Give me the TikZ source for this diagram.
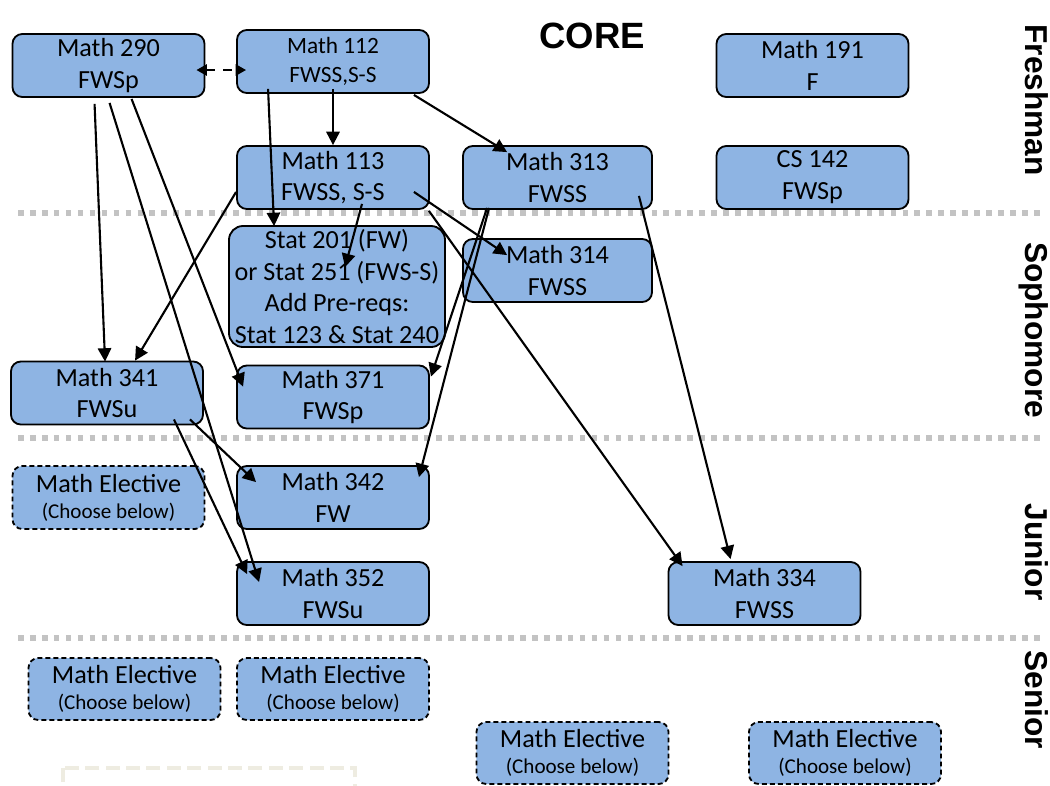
\documentclass[tikz,border=0pt]{standalone}
\usepackage{fontspec}
\setmainfont{Carlito}
\newfontfamily\headfont{Liberation Sans}
\usetikzlibrary{positioning}
\usetikzlibrary{arrows.meta}
\usetikzlibrary{calc}
\definecolor{cBlue}{HTML}{8EB4E3}
\definecolor{cGray}{HTML}{C3C3C3}
\definecolor{cBeige}{HTML}{EEECE1}

\begin{document}
\begin{tikzpicture}[
    x=0.025cm, y=-0.025cm,
    course/.style = {draw, fill=cBlue, line width=1.3pt, rounded corners=7pt,
      minimum width=4.8cm, minimum height=1.575cm, inner sep=0pt, align=center,
      font=\fontsize{18.6}{22.6}\selectfont},
    elective/.style = {course, dash pattern=on 3.5pt off 2.2pt},
    prereq/.style = {-{Triangle[length=9.5pt, width=9.5pt]}, line width=1.5pt},
    level/.style = {font=\headfont\bfseries\fontsize{22.5}{26}\selectfont, rotate=-90, anchor=base},
    separator/.style = {color=cGray, line width=3.6pt, dash pattern=on 4pt off 4.5pt},
  ]

    \def\hElective{Math Elective\\[-4.2pt]{\fontsize{15}{18}\selectfont (Choose below)}}

    \useasboundingbox (0,0) rectangle (1050,785);
    \clip (0,0) rectangle (1050,785);

    % year separators
    \draw[separator] (18,213) -- (1045,213);
    \draw[separator] (18,438) -- (1045,438);
    \draw[separator] (18,638) -- (1045,638);

    % leftover frame at the bottom
    \draw[cBeige, line width=3pt, dash pattern=on 10pt off 4.5pt] (63,768) rectangle (355,800);

    \node[font=\headfont\bfseries\fontsize{26}{30}\selectfont] (core) at (592,36) {CORE};

    % freshman
    \node[course] (m290) at (108.5,65.5) {Math 290\\FWSp};
    \node[course, font=\fontsize{16.6}{20.5}\selectfont] (m112) at (333,61.5) {Math 112\\FWSS,S-S};
    \node[course] (m191) at (812.5,65.5) {Math 191\\F};
    \node[course] (m113) at (333,177.5) {Math 113\\FWSS, S-S};
    \node[course, minimum width=4.725cm] (m313) at (557.5,177.5) {Math 313\\FWSS};
    \node[course] (cs142) at (812.5,177.5) {CS 142\\FWSp};

    % sophomore
    \node[course, minimum width=5.4cm, minimum height=3.025cm, rounded corners=10pt] (stat) at (337,286.5)
      {Stat 201 (FW)\\or Stat 251 (FWS-S)\\Add Pre-reqs:\\Stat 123 \& Stat 240};
    \node[course, minimum width=4.725cm] (m314) at (557.5,270.5) {Math 314\\FWSS};
    \node[course] (m341) at (107,393) {Math 341\\FWSu};
    \node[course] (m371) at (333,397) {Math 371\\FWSp};

    % junior
    \node[elective] (eJunior) at (108.5,497.5) {\hElective};
    \node[course] (m342) at (333,497.5) {Math 342\\FW};
    \node[course] (m352) at (333,593.5) {Math 352\\FWSu};
    \node[course] (m334) at (764.5,593.5) {Math 334\\FWSS};

    % senior
    \node[elective, minimum height=1.55cm] (eSeniorA) at (124.5,689) {\hElective};
    \node[elective, minimum height=1.55cm] (eSeniorB) at (333,689) {\hElective};
    \node[elective, minimum height=1.55cm] (eSeniorC) at (572.5,753) {\hElective};
    \node[elective, minimum height=1.55cm] (eSeniorD) at (845,753) {\hElective};

    % year labels
    \node[level] (lFresh) at (1025,100) {Freshman};
    \node[level] (lSoph) at (1025,330) {Sophomore};
    \node[level] (lJun) at (1025,552) {Junior};
    \node[level] (lSen) at (1025,700) {Senior};

    % either order
    \draw[line width=1.6pt, {Triangle[length=7.5pt, width=8pt]}-{Triangle[length=7.5pt, width=8pt]},
      dash pattern=on 6pt off 6pt] ($(m290.east)+(-9,4.5)$) -- ($(m112.west)+(10,8.5)$);

    % math 112 -> ...
    \draw[prereq] ($(m112.south)+(0,-5)$) -- (m113.north);
    \draw[prereq] ($(m112.south west)+(32,-5)$) -- ($(stat.north west)+(46,1)$);
    \draw[prereq] ($(m112.south east)+(-16,1)$) -- ($(m313.north west)+(45,7)$);

    % math 290 -> ...
    \draw[prereq] ($(m290.south west)+(83,6)$) -- ($(m341.north west)+(95,1)$);
    \draw[prereq] ($(m290.south west)+(98,5)$) -- ($(m352.north west)+(23,21)$);
    \draw[prereq] ($(m290.south west)+(120,1)$) -- ($(m371.north west)+(7,22)$);

    % math 113 -> ...
    \draw[prereq] ($(m113.west)+(0,14.5)$) -- ($(m341.north west)+(125,0)$);
    \draw[prereq] ($(m113.south)+(29,-6)$) -- ($(stat.north west)+(117,42)$);
    \draw[prereq] ($(m113.south east)+(-16,-18)$) -- ($(m314.north west)+(45,17)$);
    \draw[prereq] ($(m113.south east)+(-1,1)$) -- ($(m334.north west)+(15,5)$);

    % math 313 -> ...
    \draw[prereq] ($(m313.south west)+(25,-2)$) -- ($(m371.north east)+(1,12)$);
    \draw[prereq] ($(m313.south west)+(27,-2)$) -- ($(m342.north east)+(-11,12)$);
    \draw[prereq] ($(m313.south east)+(-14,-14)$) -- ($(m334.north west)+(63,-2)$);

    % math 341 -> ...
    \draw[prereq] ($(m341.south east)+(-14,-6)$) -- ($(m342.north west)+(20,17)$);
    \draw[prereq] ($(m341.south east)+(-30,-6)$) -- ($(m352.north west)+(11,13)$);

\end{tikzpicture}
\end{document}
